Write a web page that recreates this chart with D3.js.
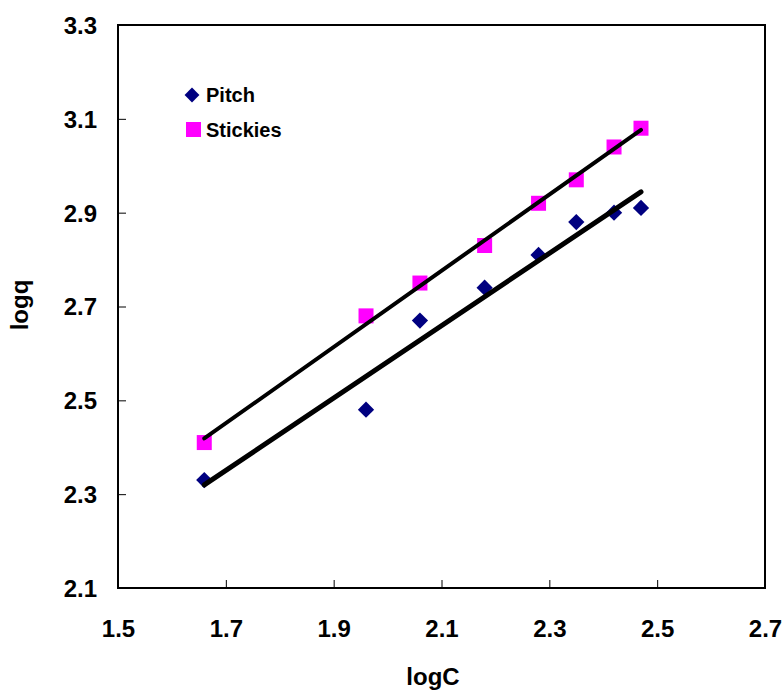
<!DOCTYPE html>
<html>
<head>
<meta charset="utf-8">
<script src="https://cdn.jsdelivr.net/npm/d3@7"></script>
<style>
  html, body { margin: 0; padding: 0; background: #fff; }
  svg { display: block; }
  text { font-family: "Liberation Sans", Arial, sans-serif; font-weight: bold; fill: #000; }
</style>
</head>
<body>
<svg id="chart" width="783" height="692"></svg>
<script>
// logC values for both series
const logC = [1.66, 1.96, 2.06, 2.18, 2.28, 2.35, 2.42, 2.47];
// logq values
const pitchLogq = [2.33, 2.48, 2.67, 2.74, 2.81, 2.88, 2.90, 2.91];
const stickiesLogq = [2.41, 2.68, 2.75, 2.83, 2.92, 2.97, 3.04, 3.08];
const seriesNames = ["Pitch", "Stickies"];
const xTicks = [1.5, 1.7, 1.9, 2.1, 2.3, 2.5, 2.7];
const yTicks = [2.1, 2.3, 2.5, 2.7, 2.9, 3.1, 3.3];

const svg = d3.select("#chart");
const plot = { left: 118, right: 765, top: 25, bottom: 588 };

const x = d3.scaleLinear().domain([1.5, 2.7]).range([plot.left, plot.right]);
const y = d3.scaleLinear().domain([2.1, 3.3]).range([plot.bottom, plot.top]);

// frame
svg.append("rect")
  .attr("x", plot.left).attr("y", plot.top)
  .attr("width", plot.right - plot.left).attr("height", plot.bottom - plot.top)
  .attr("fill", "none").attr("stroke", "#000").attr("stroke-width", 2);

// x axis: inward ticks, labels below
const xAxis = d3.axisBottom(x).tickValues(xTicks).tickSizeInner(-8).tickSizeOuter(0)
  .tickFormat(d3.format(".1f"));
const gx = svg.append("g").attr("transform", `translate(0,${plot.bottom})`).call(xAxis);
gx.select(".domain").remove();
gx.selectAll(".tick line").attr("stroke", "#000").attr("stroke-width", 1);
gx.selectAll(".tick text").attr("font-size", 24).attr("dy", 0)
  .attr("y", 49).attr("font-family", "Liberation Sans, Arial, sans-serif").attr("font-weight", "bold");

// y axis: inward ticks, labels left
const yAxis = d3.axisLeft(y).tickValues(yTicks).tickSizeInner(-8).tickSizeOuter(0)
  .tickFormat(d3.format(".1f"));
const gy = svg.append("g").attr("transform", `translate(${plot.left},0)`).call(yAxis);
gy.select(".domain").remove();
gy.selectAll(".tick line").attr("stroke", "#000").attr("stroke-width", 1);
gy.selectAll(".tick text").attr("font-size", 24).attr("x", -21).attr("dy", "0.35em")
  .attr("font-family", "Liberation Sans, Arial, sans-serif").attr("font-weight", "bold");

// axis titles
svg.append("text").attr("x", 433).attr("y", 685).attr("text-anchor", "middle")
  .attr("font-size", 24).text("logC");
svg.append("text").attr("transform", "translate(28,305) rotate(-90)")
  .attr("text-anchor", "middle").attr("font-size", 24).text("logq");

// least-squares trend line
function fit(xs, ys) {
  const mx = d3.mean(xs), my = d3.mean(ys);
  let sxy = 0, sxx = 0;
  xs.forEach((v, i) => { sxy += (v - mx) * (ys[i] - my); sxx += (v - mx) * (v - mx); });
  const b = sxy / sxx;
  return v => my + b * (v - mx);
}

const pitch = logC.map((c, i) => ({ c, q: pitchLogq[i] }));
const stickies = logC.map((c, i) => ({ c, q: stickiesLogq[i] }));

const diamondSide = 11.5;
const squareSide = 15;

// Pitch markers
svg.append("g").selectAll("rect").data(pitch).join("rect")
  .attr("x", -diamondSide / 2).attr("y", -diamondSide / 2)
  .attr("width", diamondSide).attr("height", diamondSide)
  .attr("fill", "#000080")
  .attr("transform", d => `translate(${x(d.c)},${y(d.q)}) rotate(45)`);

// Stickies markers
svg.append("g").selectAll("rect").data(stickies).join("rect")
  .attr("x", d => x(d.c) - squareSide / 2).attr("y", d => y(d.q) - squareSide / 2)
  .attr("width", squareSide).attr("height", squareSide)
  .attr("fill", "#FF00FF");

// trend lines
const ext = d3.extent(logC);
const fP = fit(logC, pitchLogq), fS = fit(logC, stickiesLogq);
svg.append("line")
  .attr("x1", x(ext[0])).attr("y1", y(fS(ext[0])))
  .attr("x2", x(ext[1])).attr("y2", y(fS(ext[1])))
  .attr("stroke", "#000").attr("stroke-width", 4).attr("stroke-linecap", "round");
svg.append("line")
  .attr("x1", x(ext[0])).attr("y1", y(fP(ext[0])))
  .attr("x2", x(ext[1])).attr("y2", y(fP(ext[1])))
  .attr("stroke", "#000").attr("stroke-width", 5).attr("stroke-linecap", "round");

// legend
const leg = svg.append("g");
leg.append("rect").attr("x", -diamondSide / 2 + 0.5).attr("y", -diamondSide / 2 + 0.5)
  .attr("width", diamondSide - 1).attr("height", diamondSide - 1).attr("fill", "#000080")
  .attr("transform", "translate(192,95) rotate(45)");
leg.append("text").attr("x", 206).attr("y", 102).attr("font-size", 20).text(seriesNames[0]);
leg.append("rect").attr("x", 186).attr("y", 122).attr("width", 15).attr("height", 15)
  .attr("fill", "#FF00FF");
leg.append("text").attr("x", 206).attr("y", 137).attr("font-size", 20).text(seriesNames[1]);
</script>
</body>
</html>
